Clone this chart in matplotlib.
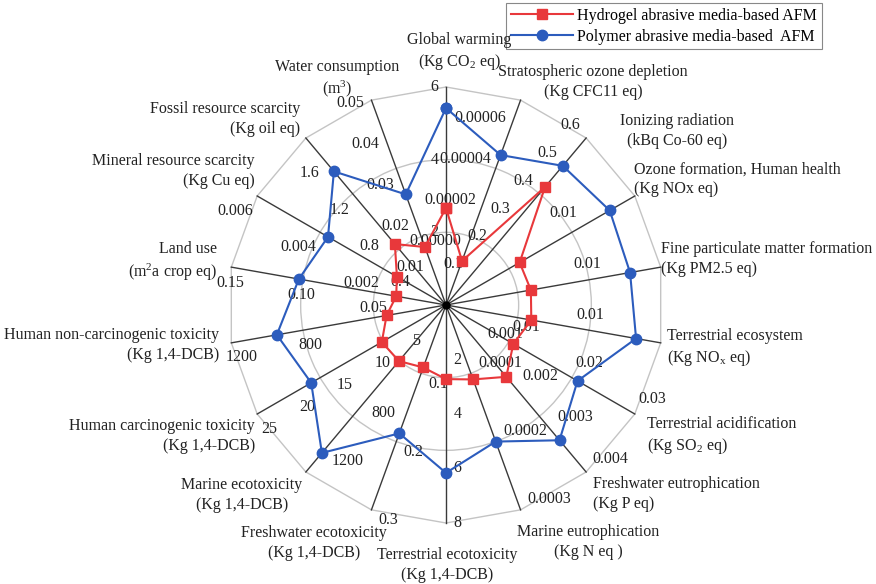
import numpy as np
import matplotlib
matplotlib.use("Agg")
import matplotlib.pyplot as plt

plt.rcParams['font.family'] = ['Liberation Serif', 'DejaVu Serif']
plt.rcParams['mathtext.fontset'] = 'custom'
plt.rcParams['mathtext.rm'] = 'Liberation Serif'
plt.rcParams['mathtext.it'] = 'Liberation Serif:italic'

# impact categories, clockwise from the top
categories = [
    "Global warming", "Stratospheric ozone depletion", "Ionizing radiation",
    "Ozone formation, Human health", "Fine particulate matter formation",
    "Terrestrial ecosystem", "Terrestrial acidification",
    "Freshwater eutrophication", "Marine eutrophication",
    "Terrestrial ecotoxicity", "Freshwater ecotoxicity", "Marine ecotoxicity",
    "Human carcinogenic toxicity", "Human non-carcinogenic toxicity",
    "Land use", "Mineral resource scarcity", "Fossil resource scarcity",
    "Water consumption",
]
units = [
    r"(Kg CO$_2$ eq)", "(Kg CFC11 eq)", "(kBq Co-60 eq)", "(Kg NOx eq)",
    "(Kg PM2.5 eq)", r"(Kg NO$_\mathregular{x}$ eq)", r"(Kg SO$_2$ eq)",
    "(Kg P eq)", "(Kg N eq )", "(Kg 1,4-DCB)", "(Kg 1,4-DCB)", "(Kg 1,4-DCB)",
    "(Kg 1,4-DCB)", "(Kg 1,4-DCB)", r"(m$^2$a crop eq)", "(Kg Cu eq)",
    "(Kg oil eq)", r"(m$^3$)",
]

# scale of every spoke: value at the centre and at the outer ring
axis_min = [0, -0.00003, 0, 0, 0, 0, 0, 0, 0, 0, 0, 0, 0, 0, 0, 0, 0, 0]
axis_max = [6, 0.00007, 0.6, 0.014, 0.015, 0.015, 0.03, 0.004, 0.0003,
            8, 0.3, 1400, 25, 1250, 0.15, 0.006, 1.85, 0.05]

tick_values = [
    [2, 4, 6],
    [0.0, 0.00002, 0.00004, 0.00006],
    [0.1, 0.2, 0.3, 0.4, 0.5, 0.6],
    [0.01],
    [0.01],
    [0.01],
    [0.01, 0.02, 0.03],
    [0.001, 0.002, 0.003, 0.004],
    [0.0001, 0.0002, 0.0003],
    [2, 4, 6, 8],
    [0.1, 0.2, 0.3],
    [800, 1200],
    [5, 10, 15, 20, 25],
    [800, 1200],
    [0.05, 0.10, 0.15],
    [0.002, 0.004, 0.006],
    [0.4, 0.8, 1.2, 1.6],
    [0.01, 0.02, 0.03, 0.04, 0.05],
]
tick_labels = [
    ["2", "4", "6"],
    ["0.00000", "0.00002", "0.00004", "0.00006"],
    ["0.1", "0.2", "0.3", "0.4", "0.5", "0.6"],
    ["0.01"],
    ["0.01"],
    ["0.01"],
    ["0.01", "0.02", "0.03"],
    ["0.001", "0.002", "0.003", "0.004"],
    ["0.0001", "0.0002", "0.0003"],
    ["2", "4", "6", "8"],
    ["0.1", "0.2", "0.3"],
    ["800", "1200"],
    ["5", "10", "15", "20", "25"],
    ["800", "1200"],
    ["0.05", "0.10", "0.15"],
    ["0.002", "0.004", "0.006"],
    ["0.4", "0.8", "1.2", "1.6"],
    ["0.01", "0.02", "0.03", "0.04", "0.05"],
]

hydrogel = [2.67, -0.0000085, 0.424, 0.00546, 0.00593, 0.00596, 0.0107,
            0.00172, 0.000109, 2.72, 0.0915, 470, 8.5, 346, 0.0348,
            0.00156, 0.675, 0.01415]
polymer = [5.42, 0.0000432, 0.50, 0.01214, 0.01286, 0.01328, 0.0209,
           0.00324, 0.0002, 6.16, 0.188, 1240, 17.85, 985, 0.1028,
           0.00375, 1.48, 0.027]

series_names = ["Hydrogel abrasive media-based AFM",
                "Polymer abrasive media-based  AFM"]

RED = "#e8383b"
BLUE = "#2c5cbd"
FS = 11.5

W, H = 876, 584
fig = plt.figure(figsize=(W / 100, H / 100), dpi=100)


def fig_xy(x, y):
    return x / W, 1 - y / H


cx, cy, R = 446, 305, 218
ax = fig.add_axes([(cx - R) / W, (H - cy - R) / H, 2 * R / W, 2 * R / H],
                  projection="polar")
ax.set_theta_zero_location("N")
ax.set_theta_direction(-1)
ax.set_ylim(0, 1)
ax.patch.set_visible(False)
ax.spines["polar"].set_visible(False)
ax.set_xticks([])
ax.set_yticks([1 / 3, 2 / 3])
ax.set_yticklabels([])
ax.yaxis.grid(True, color="#c4c4c4", lw=1.0)
ax.xaxis.grid(False)

n = len(categories)
theta = np.deg2rad(np.arange(n) * 360.0 / n)
lo = np.array(axis_min, dtype=float)
hi = np.array(axis_max, dtype=float)


def frac(vals):
    return (np.asarray(vals, dtype=float) - lo) / (hi - lo)


# outer polygonal frame
closed = np.append(theta, theta[0])
ax.plot(closed, np.ones(n + 1), color="#c4c4c4", lw=1.0, zorder=1, clip_on=False)

# spokes
for t in theta:
    ax.plot([t, t], [0, 1], color="#3a3a3a", lw=1.0, zorder=2, clip_on=False)
ax.plot([0], [0], "o", color="black", ms=5, zorder=2)

# tick labels along each spoke, on its counter-clockwise side
gap = 5.5
va_override = {8: "bottom", 10: "top"}
for i in range(n):
    phi = np.pi / 2 - theta[i]
    px, py = -np.sin(phi), np.cos(phi)
    ha = "right" if px < -0.38 else ("left" if px > 0.38 else "center")
    va = "bottom" if py > 0.38 else ("top" if py < -0.38 else "center")
    va = va_override.get(i, va)
    for v, lab in zip(tick_values[i], tick_labels[i]):
        f = (v - lo[i]) / (hi[i] - lo[i])
        ax.annotate(lab, xy=(theta[i], f), xytext=(gap * px, gap * py),
                    textcoords="offset points", ha=ha, va=va, fontsize=FS,
                    color="#222222", zorder=3, annotation_clip=False)

# data series
ax.plot(closed, np.append(frac(hydrogel), frac(hydrogel)[0]), color=RED,
        lw=1.5, marker="s", ms=6.5, label=series_names[0], zorder=5,
        clip_on=False)
ax.plot(closed, np.append(frac(polymer), frac(polymer)[0]), color=BLUE,
        lw=1.5, marker="o", ms=7.5, label=series_names[1], zorder=5,
        clip_on=False)

# category titles around the chart
title_layout = [
    (459, 52, "center"), (593, 82, "center"), (677, 131, "center"),
    (634, 179, "left"), (661, 259, "left"), (667, 348, "left"),
    (647, 436, "left"), (593, 494, "left"), (588, 542, "center"),
    (447, 565, "center"), (314, 543, "center"), (242, 495, "center"),
    (255, 436, "right"), (219, 345, "right"), (217, 262, "right"),
    (255, 171, "right"), (300, 119, "right"), (337, 79, "center"),
]
for name, unit, (x, y, ha) in zip(categories, units, title_layout):
    fx, fy = fig_xy(x, y)
    fig.text(fx, fy, name + "\n" + unit, ha=ha, va="center",
             multialignment=ha, fontsize=FS, color="#222222",
             linespacing=1.3)

leg = ax.legend(loc="upper right", bbox_to_anchor=fig_xy(822, 3),
                bbox_transform=fig.transFigure, fontsize=FS, frameon=True,
                fancybox=False, edgecolor="#888888", framealpha=1,
                borderpad=0.3, handlelength=3.9, handletextpad=0.25,
                labelspacing=0.3, borderaxespad=0)
leg.get_frame().set_linewidth(0.8)

fig.savefig("out.png", dpi=100)
